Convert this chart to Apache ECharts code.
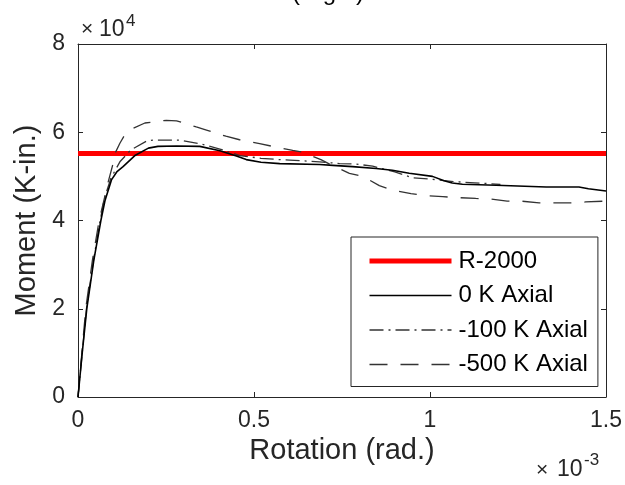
<!DOCTYPE html>
<html><head><meta charset="utf-8">
<script src="https://cdn.jsdelivr.net/npm/echarts@6/dist/echarts.min.js"></script>
<style>html,body{margin:0;padding:0;background:#fff}#c{width:625px;height:485px}</style>
</head><body><div id="c"></div>
<script>
// x in 1e-3 rad, y in 1e4 K-in.
const xTicks = [0, 0.5, 1, 1.5];
const yTicks = [0, 2, 4, 6, 8];
const legendNames = ['R-2000', '0 K Axial', '-100 K Axial', '-500 K Axial'];
const r2000 = [[0, 5.52], [1.5, 5.52]];
const axial0 = [[0,0],[0.012,1.0],[0.025,2.0],[0.045,3.1],[0.065,4.0],[0.077,4.46],[0.095,4.92],[0.11,5.1],[0.128,5.22],[0.163,5.48],[0.2,5.64],[0.227,5.68],[0.28,5.69],[0.346,5.68],[0.403,5.58],[0.45,5.46],[0.478,5.38],[0.52,5.32],[0.573,5.29],[0.686,5.27],[0.724,5.25],[0.78,5.22],[0.847,5.18],[0.893,5.14],[0.941,5.07],[1.007,5.0],[1.04,4.9],[1.063,4.85],[1.092,4.82],[1.188,4.8],[1.33,4.76],[1.423,4.76],[1.45,4.72],[1.5,4.67]];
const axial100 = [[0,0],[0.012,1.0],[0.024,2.0],[0.044,3.1],[0.063,4.0],[0.075,4.5],[0.093,4.95],[0.119,5.33],[0.15,5.6],[0.195,5.8],[0.213,5.82],[0.29,5.82],[0.346,5.74],[0.403,5.62],[0.46,5.47],[0.52,5.41],[0.573,5.38],[0.601,5.37],[0.686,5.33],[0.743,5.29],[0.79,5.28],[0.837,5.23],[0.9,5.1],[0.95,4.97],[1.0,4.94],[1.07,4.88],[1.2,4.82]];
const axial500 = [[0,0],[0.011,1.0],[0.022,2.0],[0.041,3.1],[0.06,4.0],[0.086,4.88],[0.1,5.3],[0.105,5.52],[0.119,5.75],[0.135,5.97],[0.157,6.09],[0.19,6.21],[0.251,6.27],[0.28,6.26],[0.336,6.12],[0.365,6.05],[0.42,5.91],[0.459,5.83],[0.516,5.74],[0.553,5.68],[0.61,5.59],[0.638,5.55],[0.69,5.38],[0.724,5.24],[0.771,5.07],[0.809,5.0],[0.856,4.79],[0.894,4.69],[0.946,4.61],[0.979,4.57],[1.036,4.54],[1.074,4.52],[1.13,4.5],[1.168,4.49],[1.219,4.44],[1.258,4.44],[1.31,4.4],[1.352,4.4],[1.404,4.4],[1.442,4.42],[1.5,4.44]];

const FONT = "'Liberation Sans', Arial, Helvetica, sans-serif";
const AX = '#262626';
const chart = echarts.init(document.getElementById('c'));

const styles = [
  { color: '#ff0000', width: 5, type: 'solid' },
  { color: '#000000', width: 1.6, type: 'solid' },
  { color: '#333333', width: 1.3, type: [14, 5, 2, 5] },
  { color: '#333333', width: 1.3, type: [18, 13] }
];
const seriesData = [r2000, axial0, axial100, axial500];

function xAxisCfg(pos, main) {
  return {
    type: 'value', position: pos, min: xTicks[0], max: xTicks[xTicks.length - 1],
    interval: xTicks[1] - xTicks[0],
    axisLine: { show: true, onZero: false, lineStyle: { color: AX, width: 1 } },
    axisTick: { show: true, inside: true, length: 5, lineStyle: { color: AX, width: 1 } },
    axisLabel: { show: main, fontSize: 23, color: AX, fontFamily: FONT, margin: 12 },
    splitLine: { show: false },
    name: main ? 'Rotation (rad.)' : '', nameLocation: 'middle', nameGap: 30,
    nameTextStyle: { fontSize: 29, color: AX, fontFamily: FONT }
  };
}
function yAxisCfg(pos, main) {
  return {
    type: 'value', position: pos, min: yTicks[0], max: yTicks[yTicks.length - 1],
    interval: yTicks[1] - yTicks[0],
    axisLine: { show: true, onZero: false, lineStyle: { color: AX, width: 1 } },
    axisTick: { show: true, inside: true, length: 5, lineStyle: { color: AX, width: 1 } },
    axisLabel: { show: main, fontSize: 23, color: AX, fontFamily: FONT, margin: 13 },
    splitLine: { show: false },
    name: main ? 'Moment (K-in.)' : '', nameLocation: 'middle', nameGap: 27,
    nameTextStyle: { fontSize: 29, color: AX, fontFamily: FONT }
  };
}

chart.setOption({
  animation: false,
  backgroundColor: '#fff',
  grid: { left: 78, right: 18, top: 44, bottom: 88, containLabel: false },
  xAxis: [xAxisCfg('bottom', true), xAxisCfg('top', false)],
  yAxis: [yAxisCfg('left', true), yAxisCfg('right', false)],
  legend: {
    orient: 'vertical', left: 351, top: 237, selectedMode: false,
    itemWidth: 82, itemHeight: 20, itemGap: 10.5,
    padding: [12, 10, 10, 16],
    borderColor: AX, borderWidth: 1, backgroundColor: '#fff',
    itemStyle: { opacity: 0 },
    textStyle: { fontSize: 24, color: '#000', fontFamily: FONT, lineHeight: 23, padding: [0, 0, 0, 2] },
    data: legendNames.map((n, i) => ({ name: n, lineStyle: { width: styles[i].width, color: styles[i].color, type: styles[i].type } }))
  },
  graphic: [
    { type: 'text', x: 292, y: -6.5, silent: true, style: { text: '(Right)', font: '24px ' + FONT, fill: '#000', verticalAlign: 'middle' } },
    { type: 'text', x: 81, y: 29.4, silent: true, style: { text: '\u00d7', font: '21px ' + FONT, fill: AX, verticalAlign: 'middle' } },
    { type: 'text', x: 99, y: 29.4, silent: true, style: { text: '10', font: '23px ' + FONT, fill: AX, verticalAlign: 'middle' } },
    { type: 'text', x: 126, y: 21, silent: true, style: { text: '4', font: '17px ' + FONT, fill: AX, verticalAlign: 'middle' } },
    { type: 'text', x: 536, y: 470, silent: true, style: { text: '\u00d7', font: '21px ' + FONT, fill: AX, verticalAlign: 'middle' } },
    { type: 'text', x: 557, y: 470, silent: true, style: { text: '10', font: '23px ' + FONT, fill: AX, verticalAlign: 'middle' } },
    { type: 'text', x: 584, y: 460, silent: true, style: { text: '-3', font: '17px ' + FONT, fill: AX, verticalAlign: 'middle' } }
  ],
  series: legendNames.map((n, i) => ({
    name: n, type: 'line', data: seriesData[i], symbol: 'none', z: i === 0 ? 1 : (i === 1 ? 3 : 2),
    color: styles[i].color,
    lineStyle: { color: styles[i].color, width: styles[i].width, type: styles[i].type }
  }))
});
</script></body></html>
